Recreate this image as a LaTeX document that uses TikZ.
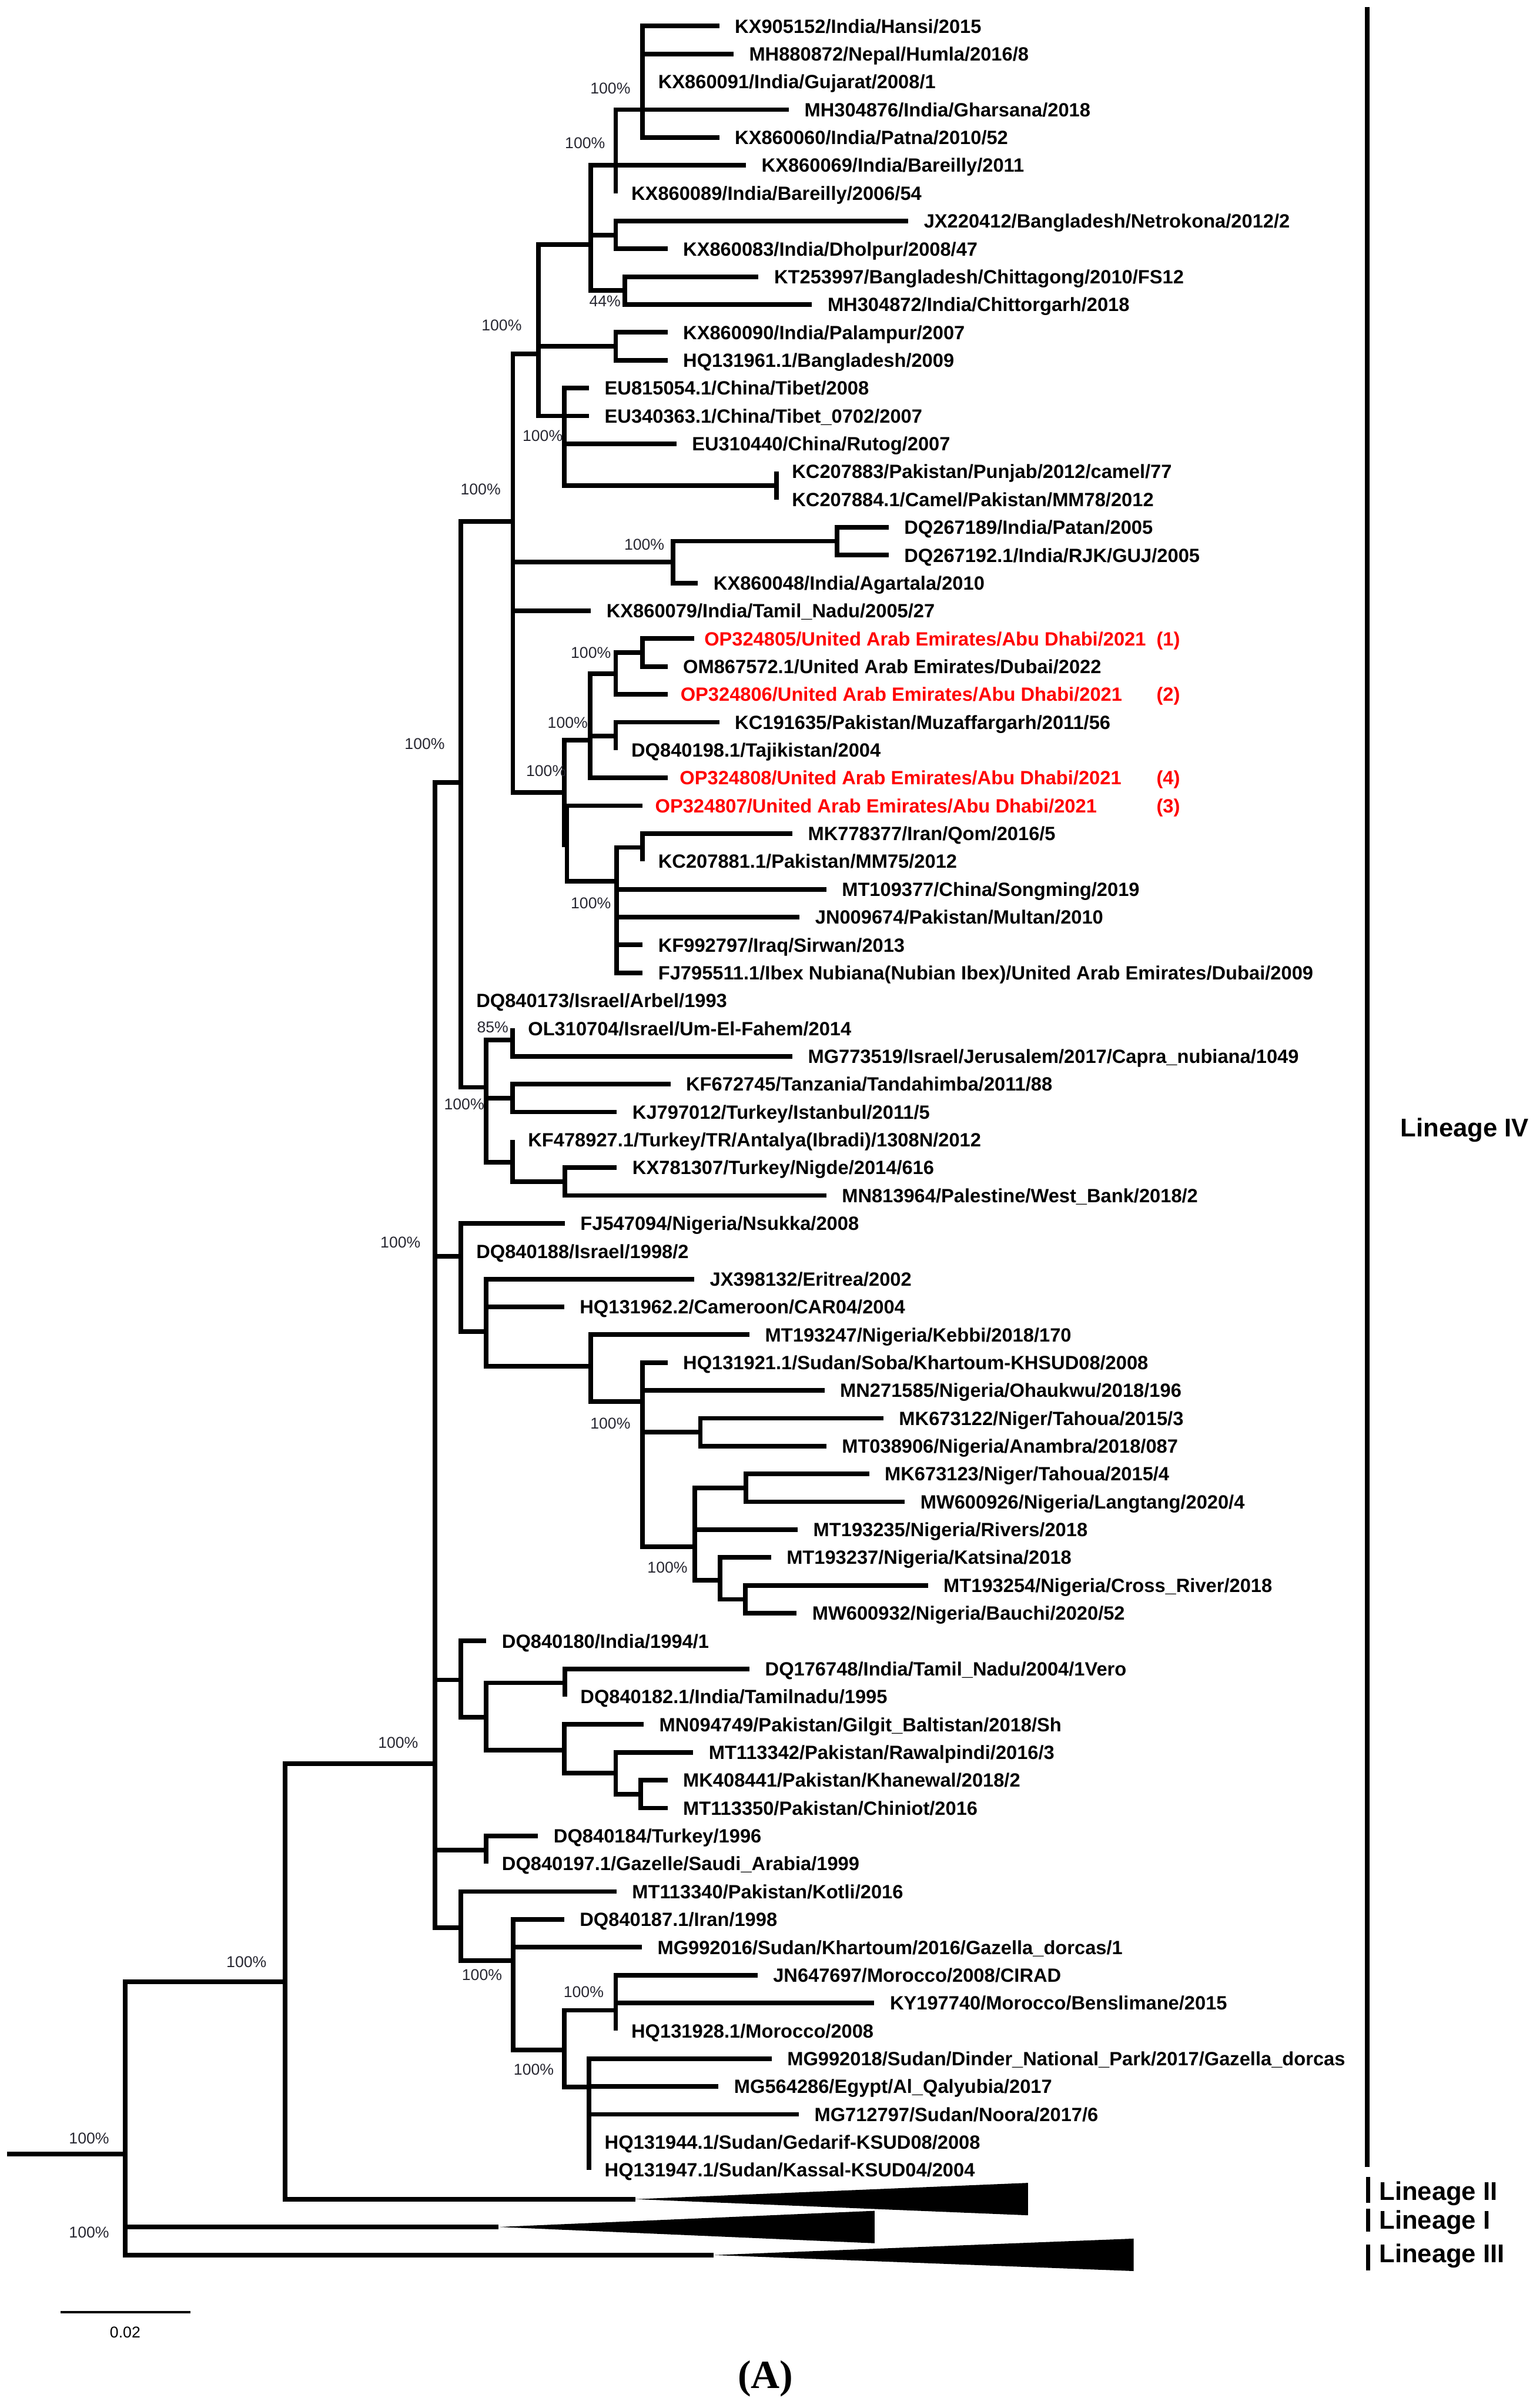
\documentclass[tikz,border=0pt]{standalone}
\usepackage{fontspec}
\setmainfont{Liberation Sans}
\newfontfamily\serifface{Liberation Serif}
\definecolor{uaered}{RGB}{255,0,0}
\definecolor{bsgray}{RGB}{40,40,50}
\newcommand\tleaf[3]{\coordinate (t#1) at (#2,{L(#1)});\node[lf] (n#1) at (#2+10,{L(#1)}) {#3};}
\newcommand\tleafr[4]{\coordinate (t#1) at (#2,{L(#1)});\node[lf,text=uaered] (n#1) at (#3,{L(#1)}) {#4};}
\begin{document}
\begin{tikzpicture}[x=1pt,y=-1pt,
  declare function={L(\i)=17+18.13*(\i-1);},
  br/.style={line width=3pt},
  lf/.style={anchor=west,inner sep=0pt,text height=9pt,text depth=0pt,font=\fontsize{12.5}{14}\selectfont\bfseries},
  bs/.style={inner sep=0pt,font=\fontsize{10.2}{12}\selectfont,text=bsgray},
  lin/.style={anchor=west,inner sep=0pt,font=\fontsize{16.7}{19}\selectfont\bfseries},
  bar/.style={line width=3pt}]
\useasboundingbox (0,0) rectangle (998,1568);
% ---------- internal nodes ----------
\coordinate (r) at (4.5,1402.5);
\coordinate (R0) at (81.4,1402.5);
\coordinate (BB) at (185.8,1290.4);
\coordinate (Y) at (283.2,1148.5);
\coordinate (J) at (300,509.4);
\coordinate (I) at (334,339.4);
\coordinate (F) at (350.6,230.3);
\coordinate (C) at (384.8,159.2);
\coordinate (B) at (401,{L(6)});
\coordinate (A) at (418.5,{L(4)});
\coordinate (D) at (401,153.0);
\coordinate (E) at (406.8,189.2);
\coordinate (G) at (401,225.5);
\coordinate (H) at (367.4,{L(15)});
\coordinate (KC) at (505.6,316.1);
\coordinate (K) at (438.2,366.0);
\coordinate (Lq) at (545.1,352.4);
\coordinate (M) at (367.4,516.1);
\coordinate (N) at (384.3,482.0);
\coordinate (P) at (401,438.8);
\coordinate (R) at (418.5,425.0);
\coordinate (Q) at (401,479.3);
\coordinate (Mp) at (369.2,550.1);
\coordinate (O) at (401.7,573.9);
\coordinate (S) at (418.5,551.8);
\coordinate (T) at (316.7,708.0);
\coordinate (U) at (333.7,677.1);
\coordinate (V) at (333.7,715.0);
\coordinate (W) at (333.7,756.8);
\coordinate (X) at (367.8,769.4);
\coordinate (Z) at (300,818.1);
\coordinate (AA) at (316.7,866.9);
\coordinate (AB) at (384.8,889.8);
\coordinate (AC) at (418.5,912.6);
\coordinate (AD) at (456.1,932.6);
\coordinate (AE) at (452.6,1007.2);
\coordinate (AF) at (485.8,968.9);
\coordinate (AG) at (468.9,1029.1);
\coordinate (AH) at (485.4,1041.4);
\coordinate (AI) at (300,1093.9);
\coordinate (AL) at (316.7,1118.3);
\coordinate (AM) at (367.8,1095.8);
\coordinate (AN) at (367.4,1139.6);
\coordinate (AO) at (401,1154.7);
\coordinate (AP) at (417.3,1168.3);
\coordinate (AJ) at (316.7,1204.6);
\coordinate (AK) at (300,1255.3);
\coordinate (AQ) at (334.1,1276.7);
\coordinate (AR) at (367.4,1334.8);
\coordinate (AS) at (401,1309.0);
\coordinate (AT) at (383.6,1359.1);
% collapsed lineages
\coordinate (tipII) at (413.7,1432);
\coordinate (IIa) at (669.5,1421.4);
\coordinate (IIb) at (669.5,1442.5);
\coordinate (tipI) at (324.6,1450.1);
\coordinate (Ia) at (569.6,1439.6);
\coordinate (Ib) at (569.6,1460.7);
\coordinate (tipIII) at (464.6,1468.4);
\coordinate (IIIa) at (738.3,1457.7);
\coordinate (IIIb) at (738.3,1478.8);
% ---------- leaves ----------
\tleaf{1}{468.4}{KX905152/India/Hansi/2015}
\tleaf{2}{477.7}{MH880872/Nepal/Humla/2016/8}
\tleaf{3}{418.5}{KX860091/India/Gujarat/2008/1}
\tleaf{4}{513.7}{MH304876/India/Gharsana/2018}
\tleaf{5}{468.4}{KX860060/India/Patna/2010/52}
\tleaf{6}{485.8}{KX860069/India/Bareilly/2011}
\tleaf{7}{401}{KX860089/India/Bareilly/2006/54}
\tleaf{8}{591.5}{JX220412/Bangladesh/Netrokona/2012/2}
\tleaf{9}{434.7}{KX860083/India/Dholpur/2008/47}
\tleaf{10}{494}{KT253997/Bangladesh/Chittagong/2010/FS12}
\tleaf{11}{528.8}{MH304872/India/Chittorgarh/2018}
\tleaf{12}{434.7}{KX860090/India/Palampur/2007}
\tleaf{13}{434.7}{HQ131961.1/Bangladesh/2009}
\tleaf{14}{383.6}{EU815054.1/China/Tibet/2008}
\tleaf{15}{383.6}{EU340363.1/China/Tibet\_0702/2007}
\tleaf{16}{440.5}{EU310440/China/Rutog/2007}
\tleaf{17}{505.6}{KC207883/Pakistan/Punjab/2012/camel/77}
\tleaf{18}{505.6}{KC207884.1/Camel/Pakistan/MM78/2012}
\tleaf{19}{578.7}{DQ267189/India/Patan/2005}
\tleaf{20}{578.7}{DQ267192.1/India/RJK/GUJ/2005}
\tleaf{21}{454.5}{KX860048/India/Agartala/2010}
\tleaf{22}{384.8}{KX860079/India/Tamil\_Nadu/2005/27}
\tleafr{23}{452.1}{458.5}{OP324805/United Arab Emirates/Abu Dhabi/2021}
\tleaf{24}{434.7}{OM867572.1/United Arab Emirates/Dubai/2022}
\tleafr{25}{434.7}{443}{OP324806/United Arab Emirates/Abu Dhabi/2021}
\tleaf{26}{468.4}{KC191635/Pakistan/Muzaffargarh/2011/56}
\tleaf{27}{401}{DQ840198.1/Tajikistan/2004}
\tleafr{28}{434.7}{442.5}{OP324808/United Arab Emirates/Abu Dhabi/2021}
\tleafr{29}{418.5}{426.5}{OP324807/United Arab Emirates/Abu Dhabi/2021}
\tleaf{30}{516}{MK778377/Iran/Qom/2016/5}
\tleaf{31}{418.5}{KC207881.1/Pakistan/MM75/2012}
\tleaf{32}{538.1}{MT109377/China/Songming/2019}
\tleaf{33}{520.7}{JN009674/Pakistan/Multan/2010}
\tleaf{34}{418.5}{KF992797/Iraq/Sirwan/2013}
\tleaf{35}{418.5}{FJ795511.1/Ibex Nubiana(Nubian Ibex)/United Arab Emirates/Dubai/2009}
\tleaf{36}{300}{DQ840173/Israel/Arbel/1993}
\tleaf{37}{333.7}{OL310704/Israel/Um-El-Fahem/2014}
\tleaf{38}{516}{MG773519/Israel/Jerusalem/2017/Capra\_nubiana/1049}
\tleaf{39}{436.6}{KF672745/Tanzania/Tandahimba/2011/88}
\tleaf{40}{401.7}{KJ797012/Turkey/Istanbul/2011/5}
\tleaf{41}{333.7}{KF478927.1/Turkey/TR/Antalya(Ibradi)/1308N/2012}
\tleaf{42}{401.7}{KX781307/Turkey/Nigde/2014/616}
\tleaf{43}{538.1}{MN813964/Palestine/West\_Bank/2018/2}
\tleaf{44}{367.8}{FJ547094/Nigeria/Nsukka/2008}
\tleaf{45}{300}{DQ840188/Israel/1998/2}
\tleaf{46}{452.1}{JX398132/Eritrea/2002}
\tleaf{47}{367.4}{HQ131962.2/Cameroon/CAR04/2004}
\tleaf{48}{488.1}{MT193247/Nigeria/Kebbi/2018/170}
\tleaf{49}{434.7}{HQ131921.1/Sudan/Soba/Khartoum-KHSUD08/2008}
\tleaf{50}{536.9}{MN271585/Nigeria/Ohaukwu/2018/196}
\tleaf{51}{575.3}{MK673122/Niger/Tahoua/2015/3}
\tleaf{52}{538.1}{MT038906/Nigeria/Anambra/2018/087}
\tleaf{53}{566}{MK673123/Niger/Tahoua/2015/4}
\tleaf{54}{589.2}{MW600926/Nigeria/Langtang/2020/4}
\tleaf{55}{519.5}{MT193235/Nigeria/Rivers/2018}
\tleaf{56}{502.1}{MT193237/Nigeria/Katsina/2018}
\tleaf{57}{604.3}{MT193254/Nigeria/Cross\_River/2018}
\tleaf{58}{518.8}{MW600932/Nigeria/Bauchi/2020/52}
\tleaf{59}{316.7}{DQ840180/India/1994/1}
\tleaf{60}{488.1}{DQ176748/India/Tamil\_Nadu/2004/1Vero}
\tleaf{61}{367.8}{DQ840182.1/India/Tamilnadu/1995}
\tleaf{62}{419.2}{MN094749/Pakistan/Gilgit\_Baltistan/2018/Sh}
\tleaf{63}{451.4}{MT113342/Pakistan/Rawalpindi/2016/3}
\tleaf{64}{434.7}{MK408441/Pakistan/Khanewal/2018/2}
\tleaf{65}{434.7}{MT113350/Pakistan/Chiniot/2016}
\tleaf{66}{350.4}{DQ840184/Turkey/1996}
\tleaf{67}{316.7}{DQ840197.1/Gazelle/Saudi\_Arabia/1999}
\tleaf{68}{401.5}{MT113340/Pakistan/Kotli/2016}
\tleaf{69}{367.4}{DQ840187.1/Iran/1998}
\tleaf{70}{418}{MG992016/Sudan/Khartoum/2016/Gazella\_dorcas/1}
\tleaf{71}{493.3}{JN647697/Morocco/2008/CIRAD}
\tleaf{72}{569.4}{KY197740/Morocco/Benslimane/2015}
\tleaf{73}{401}{HQ131928.1/Morocco/2008}
\tleaf{74}{502.5}{MG992018/Sudan/Dinder\_National\_Park/2017/Gazella\_dorcas}
\tleaf{75}{467.9}{MG564286/Egypt/Al\_Qalyubia/2017}
\tleaf{76}{520.2}{MG712797/Sudan/Noora/2017/6}
\tleaf{77}{383.6}{HQ131944.1/Sudan/Gedarif-KSUD08/2008}
\tleaf{78}{383.6}{HQ131947.1/Sudan/Kassal-KSUD04/2004}
% red tags
\foreach \i/\t in {23/(1),25/(2),28/(4),29/(3)}
  \node[lf,text=uaered] (tag\i) at (753,{L(\i)}) {\t};
% ---------- branches ----------
\draw[br] (r) -- (R0);
\draw[br] (R0) |- (BB);
\draw[br] (R0) |- (tipI);
\draw[br] (R0) |- (tipIII);
\draw[br] (BB) |- (Y);
\draw[br] (BB) |- (tipII);
\foreach \c in {J,Z,AI,AJ,AK} \draw[br] (Y) |- (\c);
\draw[br] (J) |- (I); \draw[br] (J) -- (J |- t36); \draw[br] (J) |- (T);
\draw[br] (I) |- (F); \draw[br] (I) |- (K); \draw[br] (I) |- (t22); \draw[br] (I) |- (M);
\foreach \c in {C,G,H} \draw[br] (F) |- (\c);
\foreach \c in {B,D,E} \draw[br] (C) |- (\c);
\draw[br] (B) |- (A); \draw[br] (B) |- (t6); \draw[br] (B) -- (B |- t7);
\foreach \c in {t1,t2,t4,t5} \draw[br] (A) |- (\c);
\draw[br] (A) -- (A |- t3);
\draw[br] (D) |- (t8); \draw[br] (D) |- (t9);
\draw[br] (E) |- (t10); \draw[br] (E) |- (t11);
\draw[br] (G) |- (t12); \draw[br] (G) |- (t13);
\foreach \c in {t14,t15,t16,KC} \draw[br] (H) |- (\c);
\draw[br] (KC |- t17) -- (KC |- t18);
\draw[br] (K) |- (Lq); \draw[br] (K) |- (t21);
\draw[br] (Lq) |- (t19); \draw[br] (Lq) |- (t20);
\draw[br] (M) |- (N); \draw[br] (M) |- (Mp);
\draw[br] (N) |- (P); \draw[br] (N) |- (Q); \draw[br] (N) |- (t28);
\draw[br] (P) |- (R); \draw[br] (P) |- (t25);
\draw[br] (R) |- (t23); \draw[br] (R) |- (t24);
\draw[br] (Q) |- (t26); \draw[br] (Q) -- (Q |- t27);
\draw[br] (Mp) |- (t29); \draw[br] (Mp) |- (O);
\foreach \c in {S,t32,t33,t34,t35} \draw[br] (O) |- (\c);
\draw[br] (S) |- (t30); \draw[br] (S) -- (S |- t31);
\foreach \c in {U,V,W} \draw[br] (T) |- (\c);
\draw[br] (U) -- (U |- t37); \draw[br] (U) |- (t38);
\draw[br] (V) |- (t39); \draw[br] (V) |- (t40);
\draw[br] (W) -- (W |- t41); \draw[br] (W) |- (X);
\draw[br] (X) |- (t42); \draw[br] (X) |- (t43);
\draw[br] (Z) |- (t44); \draw[br] (Z) |- (AA);
\foreach \c in {t46,t47,AB} \draw[br] (AA) |- (\c);
\draw[br] (AB) |- (t48); \draw[br] (AB) |- (AC);
\foreach \c in {t49,t50,AD,AE} \draw[br] (AC) |- (\c);
\draw[br] (AD) |- (t51); \draw[br] (AD) |- (t52);
\foreach \c in {AF,t55,AG} \draw[br] (AE) |- (\c);
\draw[br] (AF) |- (t53); \draw[br] (AF) |- (t54);
\draw[br] (AG) |- (t56); \draw[br] (AG) |- (AH);
\draw[br] (AH) |- (t57); \draw[br] (AH) |- (t58);
\draw[br] (AI) |- (t59); \draw[br] (AI) |- (AL);
\draw[br] (AL) |- (AM); \draw[br] (AL) |- (AN);
\draw[br] (AM) |- (t60); \draw[br] (AM) -- (AM |- t61);
\draw[br] (AN) |- (t62); \draw[br] (AN) |- (AO);
\draw[br] (AO) |- (t63); \draw[br] (AO) |- (AP);
\draw[br] (AP) |- (t64); \draw[br] (AP) |- (t65);
\draw[br] (AJ) |- (t66); \draw[br] (AJ) -- (AJ |- t67);
\draw[br] (AK) |- (t68); \draw[br] (AK) |- (AQ);
\foreach \c in {t69,t70,AR} \draw[br] (AQ) |- (\c);
\draw[br] (AR) |- (AS); \draw[br] (AR) |- (AT);
\draw[br] (AS) |- (t71); \draw[br] (AS) |- (t72); \draw[br] (AS) -- (AS |- t73);
\foreach \c in {t74,t75,t76} \draw[br] (AT) |- (\c);
\draw[br] (AT) -- (AT |- t78);
% collapsed triangles
\fill (tipII) -- (IIa) -- (IIb) -- cycle;
\fill (tipI) -- (Ia) -- (Ib) -- cycle;
\fill (tipIII) -- (IIIa) -- (IIIb) -- cycle;
% ---------- bootstrap values ----------
\foreach \x/\y/\t [count=\k] in {397.5/57.6/100\%, 381/93/100\%, 394/196/44\%, 326.7/212/100\%,
  353.4/283.8/100\%, 313/318.8/100\%, 419.6/354.5/100\%, 384.8/425/100\%, 369.7/470.5/100\%,
  276.6/484.3/100\%, 355.7/501.8/100\%, 384.8/588.1/100\%, 320.9/668.9/85\%, 302.3/719/100\%,
  260.8/809.1/100\%, 397.5/926.9/100\%, 434.7/1020.7/100\%, 259.3/1134.9/100\%, 160.5/1277.4/100\%,
  313.9/1286/100\%, 380.1/1296.9/100\%, 347.6/1347.5/100\%, 58/1392.4/100\%, 58/1453.5/100\%}
  \node[bs] (bs\k) at (\x,\y) {\t};
% ---------- lineage bars ----------
\coordinate (IVt) at (890.5,4.5); \coordinate (IVb) at (890.5,1411);
\coordinate (IIt) at (891,1417.6); \coordinate (IIbb) at (891,1434.3);
\coordinate (It) at (891,1438.3); \coordinate (Ibb) at (891,1453.2);
\coordinate (IIIt) at (891,1461.5); \coordinate (IIIbb) at (891,1478.5);
\draw[bar] (IVt) -- (IVb);
\draw[bar] (IIt) -- (IIbb);
\draw[bar] (It) -- (Ibb);
\draw[bar] (IIIt) -- (IIIbb);
\node[lin] (linIV) at (912,736) {Lineage IV};
\node[lin] (linII) at (898,1428.5) {Lineage II};
\node[lin] (linI) at (898,1447) {Lineage I};
\node[lin] (linIII) at (898,1469) {Lineage III};
% ---------- scale bar ----------
\coordinate (sb1) at (39.5,1505.7); \coordinate (sb2) at (124.1,1505.7);
\draw[line width=1.5pt] (sb1) -- (sb2);
\node[bs,text=black] (sbl) at (81.5,1518.7) {0.02};
% ---------- panel label ----------
\node[inner sep=0pt,font=\serifface\bfseries\fontsize{26}{30}\selectfont] (panel) at (498.5,1549) {(A)};
\end{tikzpicture}
\end{document}
